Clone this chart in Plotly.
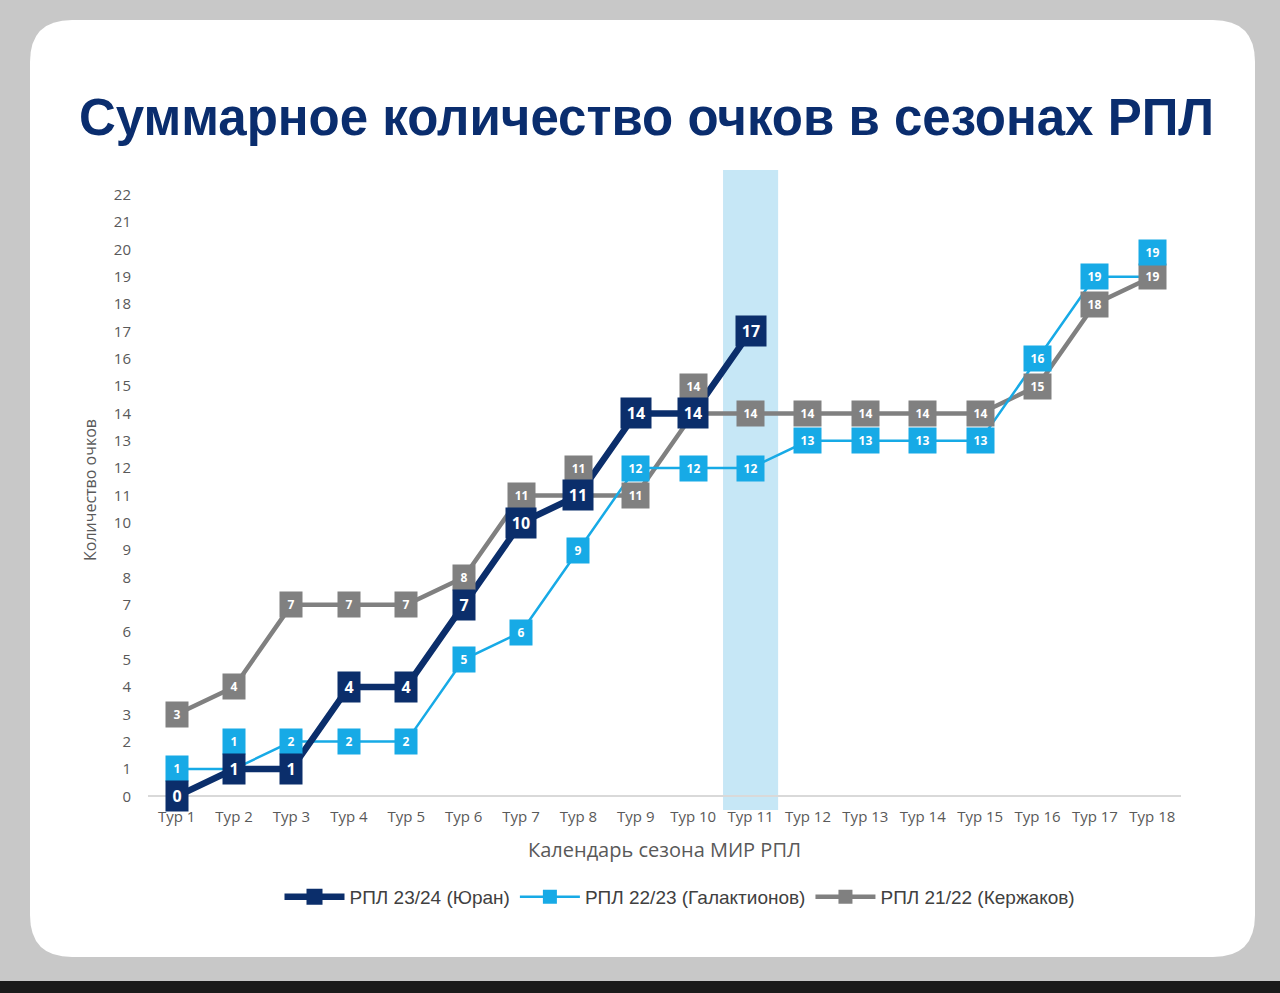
import plotly.graph_objects as go

tours = list(range(1, 19))
tour_labels = [f"Тур {i}" for i in tours]

s_2324 = [0, 1, 1, 4, 4, 7, 10, 11, 14, 14, 17]
s_2223 = [1, 1, 2, 2, 2, 5, 6, 9, 12, 12, 12, 13, 13, 13, 13, 16, 19, 19]
s_2122 = [3, 4, 7, 7, 7, 8, 11, 11, 11, 14, 14, 14, 14, 14, 14, 15, 18, 19]

names = ["РПЛ 23/24 (Юран)", "РПЛ 22/23 (Галактионов)", "РПЛ 21/22 (Кержаков)"]
highlight_tour = 11

NAVY = "#0b2e6b"
BLUE = "#17aae6"
GRAY = "#808080"

# plot area geometry (pixels)
W, H = 1280, 993
ML, MR, MT, MB = 148, 99, 170, 183
PW, PH = W - ML - MR, H - MT - MB


def xp(px):
    return (px - ML) / PW


def yp(py):
    return (H - MB - py) / PH


series = [
    dict(y=s_2122, name=names[2], color=GRAY, width=4.5, msize=14, fsize=12, pad=4, w1=14, w2=19, shifts={8: 27, 10: 27}),
    dict(y=s_2223, name=names[1], color=BLUE, width=2.5, msize=14, fsize=12, pad=4, w1=14, w2=19, shifts={2: 27, 18: 24}),
    dict(y=s_2324, name=names[0], color=NAVY, width=6.5, msize=16, fsize=16, pad=4, w1=14, w2=22, shifts={}),
]

fig = go.Figure()
annotations = []
for s in series:
    xs = tours[: len(s["y"])]
    fig.add_trace(go.Scatter(
        x=xs, y=s["y"], name=s["name"], mode="lines+markers",
        line=dict(color=s["color"], width=s["width"]),
        marker=dict(symbol="square", size=s["msize"], color=s["color"]),
    ))
    for x, v in zip(xs, s["y"]):
        txt = str(v)
        annotations.append(dict(
            x=x, y=v, xref="x", yref="y", text=txt, showarrow=False,
            yshift=s["shifts"].get(x, 0),
            font=dict(family="Open Sans", size=s["fsize"], color="white", weight=700),
            bgcolor=s["color"], borderpad=s["pad"],
            width=s["w1"] if len(txt) == 1 else s["w2"],
        ))

# legend order: 23/24, 22/23, 21/22
fig.data[0].legendrank = 3
fig.data[1].legendrank = 2
fig.data[2].legendrank = 1

annotations.append(dict(
    x=xp(646), y=yp(118), xref="paper", yref="paper", showarrow=False,
    text="<b>Суммарное количество очков в сезонах РПЛ</b>",
    font=dict(family="Liberation Sans", size=51, color="#0a2d6e"),
    xanchor="center", yanchor="middle",
))

# card path (rounded rect) in paper coords
cx0, cx1, cy0, cy1, r = 30, 1255, 20, 957, 42


def P(px, py):
    return f"{xp(px):.5f},{yp(py):.5f}"


card = (f"M {P(cx0 + r, cy0)} L {P(cx1 - r, cy0)} Q {P(cx1, cy0)} {P(cx1, cy0 + r)} "
        f"L {P(cx1, cy1 - r)} Q {P(cx1, cy1)} {P(cx1 - r, cy1)} "
        f"L {P(cx0 + r, cy1)} Q {P(cx0, cy1)} {P(cx0, cy1 - r)} "
        f"L {P(cx0, cy0 + r)} Q {P(cx0, cy0)} {P(cx0 + r, cy0)} Z")

shapes = [
    dict(type="path", path=card, xref="paper", yref="paper", fillcolor="white",
         line=dict(width=0), layer="below"),
    dict(type="rect", xref="paper", yref="paper", x0=xp(0), x1=xp(W), y0=yp(981), y1=yp(H + 5),
         fillcolor="#1b1b1b", line=dict(width=0), layer="below"),
    dict(type="rect", xref="x", yref="y", x0=highlight_tour - 0.48, x1=highlight_tour + 0.48,
         y0=-0.5, y1=22.9, fillcolor="#c6e7f6", line=dict(width=0), layer="below"),
]

fig.update_layout(
    width=W, height=H,
    margin=dict(l=ML, r=MR, t=MT, b=MB, pad=0),
    paper_bgcolor="#c8c8c8",
    plot_bgcolor="rgba(0,0,0,0)",
    shapes=shapes,
    annotations=annotations,
    showlegend=True,
    legend=dict(orientation="h", x=xp(680), y=yp(897), xanchor="center", yanchor="middle",
                font=dict(family="Liberation Sans", size=19, color="#404040"),
                traceorder="normal", itemwidth=60, bgcolor="rgba(0,0,0,0)"),
    xaxis=dict(range=[0.5, 18.5], tickvals=tours, ticktext=tour_labels, showgrid=False,
               zeroline=False, showline=False, ticks="",
               tickfont=dict(family="Open Sans", size=15, color="#595959"),
               ticklabelstandoff=-4,
               title=dict(text="Календарь сезона МИР РПЛ", standoff=17,
                          font=dict(family="Open Sans", size=20, color="#595959"))),
    yaxis=dict(range=[-0.5, 22.9], tickvals=list(range(0, 23)), showgrid=False,
               zeroline=True, zerolinecolor="#d9d9d9", zerolinewidth=1.5, showline=False, ticks="",
               tickfont=dict(family="Open Sans", size=15, color="#595959"),
               ticklabelstandoff=16,
               title=dict(text="Количество очков", standoff=13,
                          font=dict(family="Open Sans", size=16, color="#595959"))),
)

fig.write_html("out.html", config={"displayModeBar": False},
               post_script="document.body.style.margin='0';document.body.style.padding='0';"
                           "document.documentElement.style.overflow='hidden';")
